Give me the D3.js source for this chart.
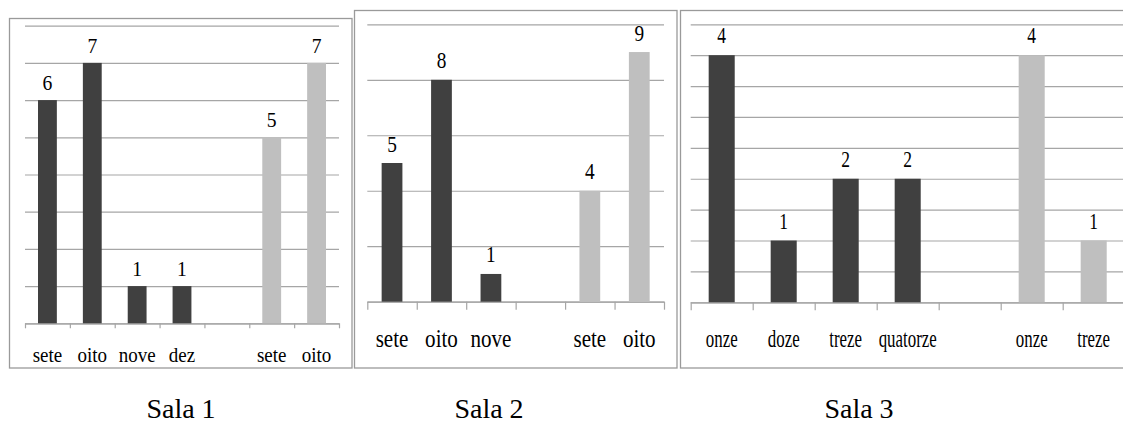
<!DOCTYPE html>
<html>
<head>
<meta charset="utf-8">
<script src="https://cdn.jsdelivr.net/npm/d3@7"></script>
<style>
  body { margin: 0; background: #fff; }
  svg text { font-family: "Liberation Serif", "DejaVu Serif", "Times New Roman", serif; }
</style>
</head>
<body>
<div id="chart"></div>
<script>
// data, one set of arrays per room ("" marks the empty gap column)
const sala1Categories = ["sete", "oito", "nove", "dez", "", "sete", "oito"];
const sala1Values = [6, 7, 1, 1, null, 5, 7];
const sala1Groups = [0, 0, 0, 0, null, 1, 1];
const sala1Ticks = [0, 1, 2, 3, 4, 5, 6, 7, 8];

const sala2Categories = ["sete", "oito", "nove", "", "sete", "oito"];
const sala2Values = [5, 8, 1, null, 4, 9];
const sala2Groups = [0, 0, 0, null, 1, 1];
const sala2Ticks = [0, 2, 4, 6, 8, 10];

const sala3Categories = ["onze", "doze", "treze", "quatorze", "", "onze", "treze"];
const sala3Values = [4, 1, 2, 2, null, 4, 1];
const sala3Groups = [0, 0, 0, 0, null, 1, 1];
const sala3Ticks = [0, 0.5, 1, 1.5, 2, 2.5, 3, 3.5, 4, 4.5];

const titles = ["Sala 1", "Sala 2", "Sala 3"];

const colors = ["#404040", "#bfbfbf"];

const W = 1123, H = 426;
const FONT = "'Liberation Serif', 'DejaVu Serif', 'Times New Roman', serif";

const svg = d3.select("#chart").append("svg")
    .attr("width", W)
    .attr("height", H);

// layout of each panel (frame + plot area + text sizes)
const panels = [
    {
        cats: sala1Categories, vals: sala1Values, groups: sala1Groups, ticks: sala1Ticks,
        frame: [9.5, 18.5, 352, 368], plot: [25, 25.7, 339, 323.3],
        catY: 361.5, catSize: 20, catSx: 0.95, valSize: 20, valSx: 0.98, valGap: 10, tickLen: 5,
        title: titles[0], titleX: 181
    },
    {
        cats: sala2Categories, vals: sala2Values, groups: sala2Groups, ticks: sala2Ticks,
        frame: [354.5, 10.5, 677, 368], plot: [367.3, 24.3, 664, 301.7],
        catY: 346.5, catSize: 26, catSx: 0.81, valSize: 23, valSx: 0.84, valGap: 11.5, tickLen: 8,
        title: titles[1], titleX: 489
    },
    {
        cats: sala3Categories, vals: sala3Values, groups: sala3Groups, ticks: sala3Ticks,
        frame: [680.5, 10.5, 1130, 368], plot: [690.7, 24.3, 1124.7, 302.3],
        catY: 346.5, catSize: 26, catSx: 0.65, valSize: 23, valSx: 0.76, valGap: 12, tickLen: 8,
        title: titles[2], titleX: 859
    }
];

panels.forEach(p => {
    const [fx0, fy0, fx1, fy1] = p.frame;
    const [px0, py0, px1, py1] = p.plot;
    const n = p.cats.length;
    const idx = d3.range(n);

    const g = svg.append("g");

    // outer frame
    g.append("rect")
        .attr("x", fx0).attr("y", fy0)
        .attr("width", fx1 - fx0).attr("height", fy1 - fy0)
        .attr("fill", "none")
        .attr("stroke", "#9a9a9a")
        .attr("stroke-width", 1.3);

    // scales
    const y = d3.scaleLinear()
        .domain([0, d3.max(p.ticks)])
        .range([py1, py0]);

    const x = d3.scaleBand()
        .domain(idx)
        .range([px0, px1])
        .paddingInner(0.58)
        .paddingOuter(0.29);

    const xEdge = d3.scaleLinear().domain([0, n]).range([px0, px1]);

    // gridlines
    g.append("g")
        .attr("transform", `translate(${px0},0)`)
        .call(d3.axisLeft(y).tickValues(p.ticks).tickSize(-(px1 - px0)).tickFormat(""))
        .call(a => a.select(".domain").remove())
        .call(a => a.selectAll("line").attr("stroke", "#a6a6a6").attr("stroke-width", 1.2));

    // bottom tick marks at band edges
    g.append("g")
        .attr("transform", `translate(0,${py1})`)
        .call(d3.axisBottom(xEdge).tickValues(d3.range(n + 1)).tickSize(p.tickLen).tickSizeOuter(0).tickFormat(""))
        .call(a => a.select(".domain").attr("stroke", "#a6a6a6").attr("stroke-width", 1.2))
        .call(a => a.selectAll("line").attr("stroke", "#a6a6a6").attr("stroke-width", 1.2));

    // bars
    const data = idx.filter(i => p.vals[i] != null);
    g.selectAll("rect.bar")
        .data(data)
        .enter()
        .append("rect")
        .attr("class", "bar")
        .attr("x", i => x(i))
        .attr("width", x.bandwidth())
        .attr("y", i => y(p.vals[i]))
        .attr("height", i => y(0) - y(p.vals[i]))
        .attr("fill", i => colors[p.groups[i]]);

    // value labels
    g.selectAll("text.val")
        .data(data)
        .enter()
        .append("text")
        .attr("class", "val")
        .attr("text-anchor", "middle")
        .attr("font-family", FONT)
        .attr("font-size", p.valSize)
        .attr("fill", "#000")
        .attr("transform", i => `translate(${x(i) + x.bandwidth() / 2},${y(p.vals[i]) - p.valGap}) scale(${p.valSx},1)`)
        .text(i => p.vals[i]);

    // category labels
    g.selectAll("text.cat")
        .data(idx.filter(i => p.cats[i] !== ""))
        .enter()
        .append("text")
        .attr("class", "cat")
        .attr("text-anchor", "middle")
        .attr("font-family", FONT)
        .attr("font-size", p.catSize)
        .attr("fill", "#000")
        .attr("transform", i => `translate(${x(i) + x.bandwidth() / 2},${p.catY}) scale(${p.catSx},1)`)
        .text(i => p.cats[i]);

    // room title under the frame
    svg.append("text")
        .attr("x", p.titleX)
        .attr("y", 418)
        .attr("text-anchor", "middle")
        .attr("font-family", FONT)
        .attr("font-size", 28)
        .attr("fill", "#000")
        .text(p.title);
});
</script>
</body>
</html>
